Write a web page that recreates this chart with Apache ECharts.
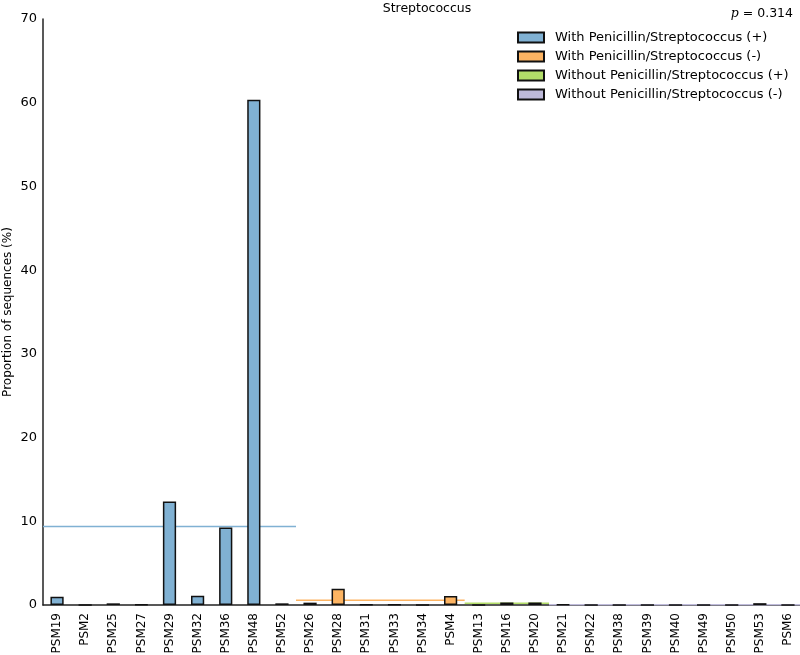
<!DOCTYPE html>
<html>
<head>
<meta charset="utf-8">
<script src="https://cdn.jsdelivr.net/npm/echarts@6/dist/echarts.min.js"></script>
<style>html,body{margin:0;padding:0;background:#fff}#c{width:800px;height:655px}</style>
</head>
<body>
<div id="c"></div>
<script>
const categories = ['PSM19','PSM2','PSM25','PSM27','PSM29','PSM32','PSM36','PSM48','PSM52',
  'PSM26','PSM28','PSM31','PSM33','PSM34','PSM4',
  'PSM13','PSM16','PSM20',
  'PSM21','PSM22','PSM38','PSM39','PSM40','PSM49','PSM50','PSM53','PSM6'];
const proportions = [1.0, 0, 0.2, 0.05, 12.35, 1.1, 9.25, 60.35, 0.2,
  0.28, 1.95, 0.03, 0.03, 0.02, 1.07,
  0.02, 0.3, 0.3,
  0.05, 0, 0, 0, 0, 0, 0, 0.22, 0];
const groupNames = ['With Penicillin/Streptococcus (+)','With Penicillin/Streptococcus (-)',
  'Without Penicillin/Streptococcus (+)','Without Penicillin/Streptococcus (-)'];
const groupSizes = [9, 6, 3, 9];
const groupColors = ['#80b1d3','#fdb462','#b3de69','#bebada'];
const yTicks = [0,10,20,30,40,50,60,70];
const titleText = 'Streptococcus';
const yAxisTitle = 'Proportion of sequences (%)';
const pValue = '0.314';

const FONT = 'DejaVu Sans';
const series = [];
let start = 0;
groupNames.forEach((name, g) => {
  const n = groupSizes[g];
  const data = categories.map((c, i) => (i >= start && i < start + n) ? proportions[i] : null);
  const vals = proportions.slice(start, start + n);
  const mean = vals.reduce((a, b) => a + b, 0) / n;
  series.push({
    name: name, type: 'bar', data: data, barWidth: '47%', barGap: '-100%',
    itemStyle: {color: groupColors[g], borderColor: '#111', borderWidth: 1.5},
    xAxisIndex: 0, yAxisIndex: 0, z: 3
  });
  series.push({
    name: name + ' mean', type: 'line', xAxisIndex: 1, yAxisIndex: 0,
    data: [[start - 0.5, mean], [start + n - 0.5, mean]],
    symbol: 'none', lineStyle: {color: groupColors[g], width: 1.5}, z: 2,
    silent: true
  });
  start += n;
});

const chart = echarts.init(document.getElementById('c'));
chart.setOption({
  animation: false,
  backgroundColor: '#fff',
  textStyle: {fontFamily: FONT},
  title: [
    {text: titleText, left: 422, top: -3, textAlign: 'center',
     textStyle: {fontFamily: FONT, fontSize: 12.5, fontWeight: 'normal', color: '#000'}},
    {text: '{p|p} = ' + pValue, right: 2, top: 2,
     textStyle: {fontFamily: FONT, fontSize: 12.5, fontWeight: 'normal', color: '#000',
       rich: {p: {fontFamily: 'DejaVu Serif', fontStyle: 'italic', fontSize: 12.5, color: '#000'}}}}
  ],
  graphic: [{
    type: 'text', x: 8, y: 312, rotation: Math.PI / 2,
    style: {text: yAxisTitle, font: '12px "DejaVu Sans"', fill: '#000',
            align: 'center', verticalAlign: 'middle'}
  }],
  legend: {
    data: groupNames, orient: 'vertical', left: 512, top: 26,
    icon: 'rect', itemWidth: 26, itemHeight: 10, itemGap: 6,
    textStyle: {fontFamily: FONT, fontSize: 13, color: '#000', padding: [0, 0, 0, 6]},
    selectedMode: false
  },
  grid: {left: 43, top: 19, width: 759, bottom: 50, containLabel: false, outerBoundsMode: 'none'},
  xAxis: [
    {type: 'category', data: categories, boundaryGap: true,
     axisLine: {lineStyle: {color: '#222', width: 1.5}},
     axisTick: {show: false},
     axisLabel: {rotate: 90, interval: 0, fontFamily: FONT, fontSize: 12, color: '#000', margin: 8}},
    {type: 'value', min: -0.5, max: categories.length - 0.5, show: false}
  ],
  yAxis: {
    type: 'value', min: yTicks[0], max: yTicks[yTicks.length - 1], interval: 10,
    axisLine: {show: true, onZero: false, lineStyle: {color: '#222', width: 1.5}},
    axisTick: {show: false},
    splitLine: {show: false},
    axisLabel: {fontFamily: FONT, fontSize: 13, color: '#000', margin: 6}
  },
  series: series
});
</script>
</body>
</html>
